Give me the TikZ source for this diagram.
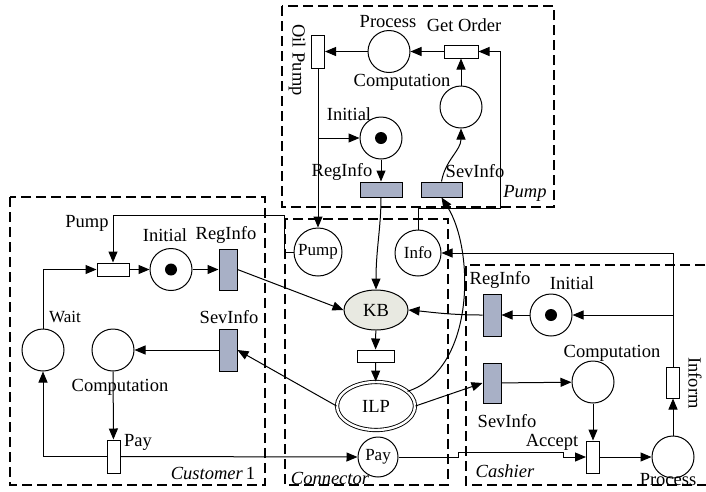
\documentclass[tikz,border=0pt]{standalone}
\usepackage{fontspec}
\setmainfont{Liberation Serif}
\usetikzlibrary{arrows.meta,shapes.geometric}
\definecolor{tgray}{RGB}{168,176,198}
\definecolor{kbfill}{RGB}{232,233,225}
\tikzset{
  every node/.style={font=\fontsize{18.5}{21}\selectfont},
  arr/.style={-{Triangle[length=11pt,width=9pt]}, line width=1pt},
  place/.style={circle, draw, line width=1pt, fill=white, inner sep=0pt, minimum size=42pt},
  trans/.style={rectangle, draw, line width=1pt, fill=white, inner sep=0pt},
  htrans/.style={trans, minimum width=33pt, minimum height=13pt},
  vtrans/.style={trans, minimum width=13pt, minimum height=33pt},
  gtrans/.style={trans, fill=tgray},
  gv/.style={gtrans, minimum width=18pt, minimum height=42pt},
  gh/.style={gtrans, minimum width=42pt, minimum height=15pt},
  boxline/.style={dashed, dash pattern=on 10pt off 5pt, line width=2.2pt},
  lbl/.style={inner sep=0pt},
  small/.style={font=\fontsize{17}{19}\selectfont},
  tok/.style={circle, fill=black, inner sep=0pt, minimum size=12pt}
}
\begin{document}
\begin{tikzpicture}[x=1pt,y=-1pt]
\useasboundingbox (0,0) rectangle (706,491);
\begin{scope}
\clip (0,0) rectangle (706,491);
% dashed boxes
\draw[boxline] (282,6) rectangle (554,207);
\draw[boxline] (10,197) rectangle (265,485);
\draw[boxline] (285,219) rectangle (448,485);
\draw[boxline] (720,265) -- (466,265) -- (466,485) -- (720,485);
\end{scope}

% ---------- Pump ----------
\node[vtrans] (oilpump) at (318,51.5) {};
\node[place] (pprocess) at (389,51.5) {};
\node[htrans, minimum width=34pt] (getorder) at (461,51.5) {};
\node[place] (pcomp) at (461,107) {};
\node[place] (pinit) at (381,138) {};
\node[tok] (ptok) at (pinit.center) {};
\node[gh] (preg) at (381,189.5) {};
\node[gh, minimum width=41pt] (psev) at (441.5,189.5) {};

\node[lbl, rotate=-90] (loil) at (297,60) {Oil Pump};
\node[lbl] (lpproc) at (388,22) {Process};
\node[lbl] (lgetord) at (464,25) {Get Order};
\node[lbl] (lpcomp) at (402,82) {Computation};
\node[lbl] (lpinit) at (349,114) {Initial};
\node[lbl] (lpreg) at (342,172) {RegInfo};
\node[lbl] (lpsev) at (475,171) {SevInfo};
\node[lbl] (lpump) at (525,193) {\textit{Pump}};

% ---------- Connector ----------
\node[place, small, minimum size=48pt] (cpump) at (318,252) {Pump};
\node[place, small, minimum size=46pt] (info) at (418,253) {Info};
\node[ellipse, draw, line width=1pt, fill=kbfill, inner sep=0pt, minimum width=64pt, minimum height=40pt] (kb) at (376,310) {KB};
\node[htrans, minimum width=37pt, minimum height=12pt] (ct) at (375.5,356) {};
\node[ellipse, draw, line width=0.9pt, double, double distance=2.4pt, fill=white, inner sep=0pt, minimum width=78pt, minimum height=48pt] (ilp) at (376,406) {ILP};
\node[place, small, minimum size=40pt] (cpay) at (378,457) {Pay};
\node[lbl] (lconn) at (330,478) {\textit{Connector}};

% ---------- Customer ----------
\node[htrans, minimum width=32pt] (upump) at (113,269.5) {};
\node[place] (uinit) at (171,269.5) {};
\node[tok] (utok) at (uinit.center) {};
\node[gv, minimum height=41pt] (ureg) at (228,269.5) {};
\node[gv] (usev) at (228,350) {};
\node[place] (wait) at (43,350) {};
\node[place] (ucomp) at (113,350) {};
\node[vtrans] (upay) at (113.5,456.5) {};

\node[lbl] (lupump) at (87,223) {Pump};
\node[lbl] (luinit) at (165,235) {Initial};
\node[lbl] (lureg) at (226,235) {RegInfo};
\node[lbl] (lusev) at (229,317) {SevInfo};
\node[lbl, small] (lwait) at (65,317) {Wait};
\node[lbl] (lucomp) at (120,387) {Computation};
\node[lbl] (lupay) at (138,442) {Pay};
\node[lbl] (lcust) at (213,473) {\textit{Customer}\,1};

% ---------- Cashier ----------
\node[gv] (sreg) at (492,315) {};
\node[place] (sinit) at (551,315) {};
\node[tok] (stok) at (sinit.center) {};
\node[gv, minimum height=40pt] (ssev) at (492,383) {};
\node[place] (scomp) at (593,382) {};
\node[vtrans, minimum height=32pt] (accept) at (593,457) {};
\node[place] (sproc) at (673,457) {};
\node[vtrans, minimum height=31pt] (inform) at (673,382.5) {};

\node[lbl] (lsreg) at (500,280) {RegInfo};
\node[lbl] (lsinit) at (572,283) {Initial};
\node[lbl] (lssev) at (507,421) {SevInfo};
\node[lbl] (lscomp) at (612,353) {Computation};
\node[lbl] (lacc) at (552,442) {Accept};
\node[lbl] (lsproc) at (668,480) {Process};
\node[lbl, rotate=-90] (linform) at (695,383) {Inform};
\node[lbl] (lcash) at (505,471) {\textit{Cashier}};

% ---------- connectors: Pump ----------
\draw[arr] (pprocess) -- (oilpump);
\draw[arr] (getorder) -- (pprocess);
\draw[arr] (pcomp) -- (getorder);
\coordinate (j1) at (500,208);
\draw[arr] (info.north) |- (j1) |- (getorder.east);
\draw[arr] (oilpump.south) -- (cpump.north);
\draw[arr] (oilpump.south |- pinit.west) -- (pinit.west);
\draw[arr] (pinit) -- (preg);
\draw[arr] (psev.north) .. controls +(4,-22) and +(0,22) .. (pcomp.south);
\draw[arr] (preg.south) .. controls +(0,30) and +(0,-40) .. (kb.north);
\draw[arr] (ilp.25) .. controls (475,370) and (475,250) .. (psev.south);

% ---------- connectors: Connector ----------
\draw[arr] (kb) -- (ct);
\draw[arr] (ct) -- (ilp);

% ---------- connectors: Customer ----------
\coordinate (k1) at (284,215);
\draw[arr] (cpump.west) -| (k1) -| (upump.north);
\draw[arr] (wait.north) |- (upump.west);
\draw[arr] (upump) -- (uinit);
\draw[arr] (uinit) -- (ureg);
\draw[arr] (ureg.east) -- (kb.west);
\draw[arr] (usev) -- (ucomp);
\draw[arr] (ilp.west) -- (usev.east);
\draw[arr] (ucomp) -- (upay);
\draw[arr] (upay.west) -| (wait.south);
\draw[arr] (upay.east) -- (cpay.west);

% ---------- connectors: Cashier ----------
\coordinate (m1) at (458,452);
\coordinate (m2) at (563,452);
\draw[arr] (cpay.east) -| (m1) -- (m2) |- (accept.west);
\draw[arr] (inform.north) |- (info.east);
\draw[arr] (inform.north |- sinit.east) -- (sinit.east);
\draw[arr] (sinit) -- (sreg);
\draw[arr] (sreg.west) .. controls (450,315) and (430,312) .. (kb.east);
\draw[arr] (ilp.east) -- (ssev.west);
\draw[arr] (ssev) -- (scomp);
\draw[arr] (scomp) -- (accept);
\draw[arr] (accept) -- (sproc);
\draw[arr] (sproc) -- (inform);
\end{tikzpicture}
\end{document}
